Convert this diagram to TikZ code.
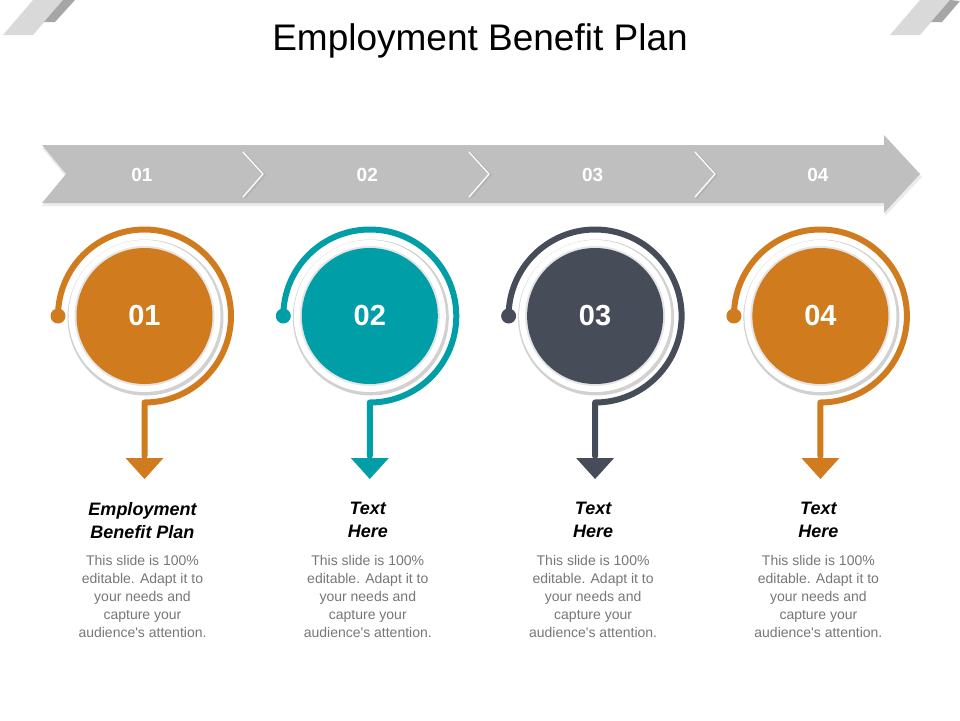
\documentclass[tikz,border=0pt]{standalone}
\usepackage{fontspec}
\setmainfont{Liberation Sans}
\usetikzlibrary{calc, positioning}
\usepackage{xcolor}

\definecolor{planorange}{RGB}{208,123,30}
\definecolor{planteal}{RGB}{0,158,166}
\definecolor{plandark}{RGB}{70,77,89}
\definecolor{bannergray}{RGB}{191,191,191}
\definecolor{bodygray}{RGB}{118,118,118}

\begin{document}
\begin{tikzpicture}[line cap=round,line join=round,x=1pt,y=-1pt,
  every node/.style={inner sep=0pt},
  bannernum/.style={text=white, font=\bfseries\fontsize{19}{19}\selectfont},
  circnum/.style={circle, text=white, minimum size=136pt, font=\bfseries\fontsize{29}{29}\selectfont},
  headtext/.style={align=center, anchor=north, font=\bfseries\itshape\fontsize{18}{23}\selectfont},
  bodytext/.style={align=center, anchor=north, text=bodygray, font=\fontsize{14}{18}\selectfont}]
\useasboundingbox (0,0) rectangle (960,720);

% corners
\fill [black!15] (3,35) -- (33,35) -- (63,0) -- (33,0) -- cycle;
\fill [black!35] (44,22) -- (55,22) -- (75,0) -- (63,0) -- cycle;
\fill [black!15] (890,35) -- (920,35) -- (950,0) -- (920,0) -- cycle;
\fill [black!35] (931,22) -- (942,22) -- (960,1) -- (950,0) -- cycle;

% title
\node [anchor=base] (title) at (480,50) {\fontsize{37}{37}\selectfont Employment Benefit Plan};

% banner
\fill [black!8] (42,148) -- (885,148) -- (885,138) -- (922,177) -- (885,216) -- (885,206) -- (42,206) -- (66,177) -- cycle;
\fill [bannergray] (42,145) -- (884,145) -- (884,135) -- (920,174) -- (884,213) -- (884,203) -- (42,203) -- (66,174) -- cycle;
\foreach \s in {243,469,695} {
  \draw [black!30, line width=1.5pt] (\s+2,153) -- (\s+22,175) -- (\s+2,198);
  \draw [white, line width=1.2pt] (\s,152) -- (\s+20,174) -- (\s,197);
}

% stages
\foreach \i/\x/\col/\head in {1/144.5/planorange/{Employment\\Benefit Plan},
    2/369.8/planteal/{Text\\Here}, 3/595.1/plandark/{Text\\Here}, 4/820.4/planorange/{Text\\Here}} {
  \node [bannernum] (num\i) at ({\x-2.5},175) {0\i};
  \coordinate (C\i) at (\x,316);
  % ring with shadow
  \fill [black!18] ($(C\i)+(1,1.5)$) circle (78);
  \fill [white] (C\i) circle (76);
  \fill [black!10] (C\i) circle (70);
  \node [circnum, fill=\col] (circ\i) at (C\i) {0\i};
  % arc and arrow
  \draw [\col, line width=6pt] ($(C\i)+(-86.5,0)$) arc [start angle=180, end angle=450, radius=86.5] -- ($(C\i)+(0,140)$);
  \fill [\col] ($(C\i)+(-86.5,0)$) circle (7.5);
  \fill [\col] ($(C\i)+(-19,142)$) -- ($(C\i)+(19,142)$) -- ($(C\i)+(0,163)$) -- cycle;
  % texts
  \node [headtext] (head\i) at ({\x-2},502) {\head};
  \node [bodytext] (body\i) at ({\x-2},555) {This slide is 100\%\\editable. Adapt it to\\your needs and\\capture your\\audience\textquotesingle s attention.};
}

\end{tikzpicture}
\end{document}
